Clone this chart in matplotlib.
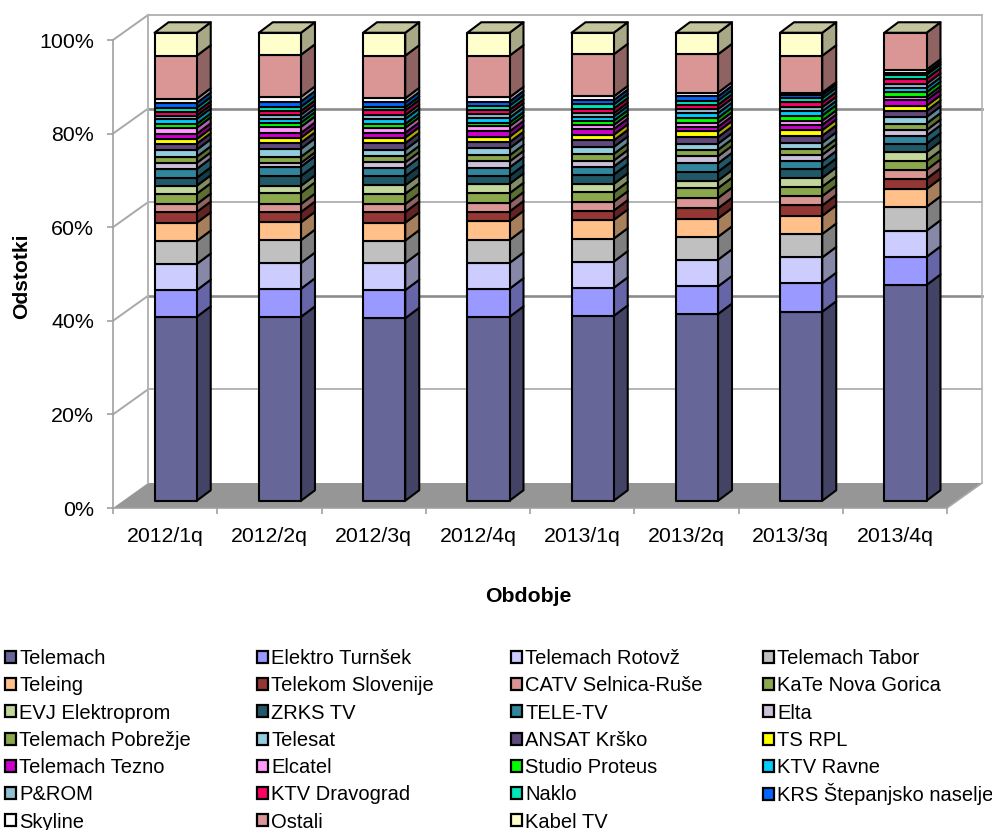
import matplotlib
matplotlib.use('Agg')
import matplotlib.pyplot as plt
from matplotlib.patches import Polygon, Patch
from matplotlib.colors import to_rgb

plt.rcParams['font.family'] = ['Liberation Sans', 'DejaVu Sans']

quarters = ['2012/1q', '2012/2q', '2012/3q', '2012/4q', '2013/1q', '2013/2q', '2013/3q', '2013/4q']

# odstotki po ponudnikih, odcitano s slike
telemach = [39.3, 39.3, 39.0, 39.3, 39.5, 39.9, 40.4, 46.1]
elektro_turnsek = [5.7, 6.0, 6.0, 6.0, 6.0, 5.9, 6.1, 6.0]
telemach_rotovz = [5.6, 5.5, 5.8, 5.5, 5.6, 5.7, 5.5, 5.6]
telemach_tabor = [4.9, 4.9, 4.8, 4.9, 4.9, 4.9, 5.0, 5.1]
teleing = [3.9, 3.8, 3.8, 4.0, 4.0, 3.9, 3.9, 3.8]
telekom = [2.3, 2.2, 2.3, 2.1, 2.0, 2.2, 2.2, 2.2]
catv_selnica = [1.7, 1.7, 1.7, 1.9, 1.9, 2.2, 2.0, 1.9]
kate = [2.2, 2.4, 2.2, 2.0, 2.0, 2.1, 2.0, 1.9]
evj = [1.7, 1.5, 1.8, 2.0, 1.8, 1.6, 1.9, 1.9]
zrks = [1.7, 2.1, 1.9, 1.7, 2.0, 1.9, 1.9, 1.8]
tele_tv = [1.9, 2.0, 1.8, 1.8, 1.7, 1.8, 1.6, 1.7]
elta = [1.3, 0.8, 1.2, 1.3, 1.3, 1.5, 1.4, 1.2]
pobrezje = [1.3, 1.3, 1.3, 1.3, 1.4, 1.4, 1.2, 1.4]
telesat = [1.5, 1.7, 1.4, 1.5, 1.5, 1.3, 1.4, 1.4]
ansat = [1.3, 1.3, 1.4, 1.3, 1.4, 1.4, 1.5, 1.3]
ts_rpl = [1.0, 1.1, 1.2, 1.2, 1.2, 1.2, 1.2, 1.1]
tezno = [1.1, 1.0, 1.0, 1.1, 1.2, 1.0, 1.1, 1.2]
elcatel = [1.3, 1.3, 1.1, 1.1, 0.9, 0.9, 0.9, 0.7]
studio = [0.8, 0.9, 0.8, 0.8, 0.9, 1.0, 1.1, 1.0]
ravne = [1.1, 0.8, 1.1, 1.0, 0.9, 1.0, 0.9, 0.9]
prom = [0.7, 0.9, 0.8, 0.9, 0.7, 0.9, 0.9, 0.9]
dravograd = [0.8, 0.8, 1.0, 0.8, 1.0, 0.9, 1.0, 1.1]
naklo = [0.9, 0.9, 0.7, 0.9, 0.9, 0.9, 0.9, 0.8]
krs = [1.0, 1.1, 1.0, 0.9, 0.9, 0.9, 0.7, 0.5]
skyline = [0.9, 1.0, 0.9, 0.9, 0.8, 0.8, 0.5, 0.6]
ostali = [9.2, 9.0, 9.1, 8.9, 9.0, 8.2, 7.9, 7.9]
kabel = [4.9, 4.7, 4.9, 4.9, 4.6, 4.6, 4.9, 0.0]

series = [telemach, elektro_turnsek, telemach_rotovz, telemach_tabor, teleing, telekom,
          catv_selnica, kate, evj, zrks, tele_tv, elta, pobrezje, telesat, ansat, ts_rpl,
          tezno, elcatel, studio, ravne, prom, dravograd, naklo, krs, skyline, ostali, kabel]
names = ['Telemach', 'Elektro Turnšek', 'Telemach Rotovž', 'Telemach Tabor', 'Teleing',
         'Telekom Slovenije', 'CATV Selnica-Ruše', 'KaTe Nova Gorica', 'EVJ Elektroprom',
         'ZRKS TV', 'TELE-TV', 'Elta', 'Telemach Pobrežje', 'Telesat', 'ANSAT Krško',
         'TS RPL', 'Telemach Tezno', 'Elcatel', 'Studio Proteus', 'KTV Ravne', 'P&ROM',
         'KTV Dravograd', 'Naklo', 'KRS Štepanjsko naselje', 'Skyline', 'Ostali', 'Kabel TV']
colors = ['#666699', '#9999FF', '#CCCCFF', '#C0C0C0', '#FFC08A', '#953735', '#D99694',
          '#8BA84D', '#C3D69B', '#215968', '#31859C', '#CCC1DA', '#8BA84D', '#93CDDD',
          '#604A7B', '#FFFF00', '#CC00CC', '#FF99FF', '#00FF00', '#00CCFF', '#92C0D0',
          '#FF0066', '#00E8B8', '#0066FF', '#FFFFFF', '#D99694', '#FFFFCC']


def shade(color, f):
    return tuple(c * f for c in to_rgb(color))


W, H = 992, 830
fig = plt.figure(figsize=(W / 100, H / 100), dpi=100)
ax = fig.add_axes([113 / W, 1 - 508 / H, 834 / W, 468 / H])
ax.set_xlim(0, len(quarters))
ax.set_ylim(0, 100)

# globina 3D stene in stolpcev (v enotah osi)
wall_dx, wall_dy = 0.336, 5.34
bar_dx, bar_dy = 0.134, 2.24
bar_w = 0.405
inset_x, inset_y = (wall_dx - bar_dx) / 2, (wall_dy - bar_dy) / 2

n = len(quarters)
grid_a = '#8C8C8C'
grid_b = '#A8A8A8'

# tla
ax.add_patch(Polygon([(0, 0), (wall_dx, wall_dy), (n + wall_dx, wall_dy), (n, 0)],
                     facecolor='#969696', edgecolor='none', clip_on=False, zorder=1))
ax.plot([n, n + wall_dx], [0, wall_dy], color=grid_b, lw=1.2, clip_on=False, zorder=1)

# mreza na zadnji in levi steni
for v in [20, 40, 60, 80, 100]:
    c, lw = (grid_a, 1.9) if v in (40, 80) else (grid_b, 1.2)
    ax.plot([wall_dx, n + wall_dx], [v + wall_dy, v + wall_dy], color=c, lw=lw, clip_on=False, zorder=1)
    ax.plot([0, wall_dx], [v, v + wall_dy], color=grid_b, lw=1.4, clip_on=False, zorder=1)
ax.plot([wall_dx, wall_dx], [wall_dy, 100 + wall_dy], color='#B4B4B4', lw=1.4, clip_on=False, zorder=1)
ax.plot([n + wall_dx, n + wall_dx], [wall_dy, 100 + wall_dy], color='#B4B4B4', lw=1.2, clip_on=False, zorder=1)

# stolpci
for i in range(n):
    x0 = i + 0.5 - bar_w / 2 + inset_x
    x1 = x0 + bar_w
    bottom = inset_y
    for vals, col in zip(series, colors):
        v = vals[i]
        if v <= 0:
            continue
        top = bottom + v
        ax.add_patch(Polygon([(x1, bottom), (x1 + bar_dx, bottom + bar_dy),
                              (x1 + bar_dx, top + bar_dy), (x1, top)],
                             facecolor=shade(col, 0.66), edgecolor='black', lw=1.5,
                             joinstyle='round', clip_on=False, zorder=3))
        ax.add_patch(Polygon([(x0, bottom), (x1, bottom), (x1, top), (x0, top)],
                             facecolor=col, edgecolor='black', lw=1.5,
                             joinstyle='round', clip_on=False, zorder=4))
        bottom = top
    # vrh je vedno v barvi zadnje serije
    ax.add_patch(Polygon([(x0, bottom), (x1, bottom), (x1 + bar_dx, bottom + bar_dy),
                          (x0 + bar_dx, bottom + bar_dy)],
                         facecolor=shade(colors[-1], 0.77), edgecolor='black', lw=1.5,
                         joinstyle='round', clip_on=False, zorder=4))

# osi
for s in ['top', 'right']:
    ax.spines[s].set_visible(False)
for s in ['left', 'bottom']:
    ax.spines[s].set_color('#A0A0A0')
    ax.spines[s].set_linewidth(1.2)
ax.patch.set_visible(False)
ax.set_yticks([0, 20, 40, 60, 80, 100])
ax.set_yticklabels(['0%', '20%', '40%', '60%', '80%', '100%'], fontsize=15.4, color='black')
ax.tick_params(axis='y', length=4, width=1.2, color='#A0A0A0', pad=9.5)
ax.set_xticks([i + 0.5 for i in range(n)])
ax.set_xticklabels(quarters, fontsize=15.3)
ax.tick_params(axis='x', which='major', length=0, pad=13.5)
ax.set_xticks(range(n + 1), minor=True)
ax.tick_params(axis='x', which='minor', length=4, width=1.2, color='#A0A0A0')

ax.set_ylabel('Odstotki', fontsize=15.2, fontweight='bold')
ax.yaxis.set_label_coords((31 - 113) / 834, (508 - 276) / 468)
ax.set_xlabel('Obdobje', fontsize=15.3, fontweight='bold')
ax.xaxis.set_label_coords((528 - 113) / 834, (508 - 587) / 468)

# legenda: stiri stolpci, polnjeni po vrsticah
col_x = [5, 257, 511, 763]
leg_kw = dict(loc='upper left', fontsize=14.5, frameon=False, handlelength=0.55, handleheight=0.55,
              handletextpad=0.15, labelspacing=0.41, borderpad=0, borderaxespad=0)
for c in range(4):
    idx = list(range(c, len(names), 4))
    if c == 3:
        idx = idx[:-1]
    handles = [Patch(facecolor=colors[k], edgecolor='black', lw=1.6) for k in idx]
    fig.legend(handles, [names[k] for k in idx], bbox_to_anchor=(col_x[c] / W, 1 - 649 / H), **leg_kw)

# zadnja vrstica ima visji Š, zato posebej
k = names.index('KRS Štepanjsko naselje')
fig.legend([Patch(facecolor=colors[k], edgecolor='black', lw=1.6)], [names[k]],
           bbox_to_anchor=(col_x[3] / W, 1 - 783 / H), **leg_kw)

fig.savefig('out.png', dpi=100)
